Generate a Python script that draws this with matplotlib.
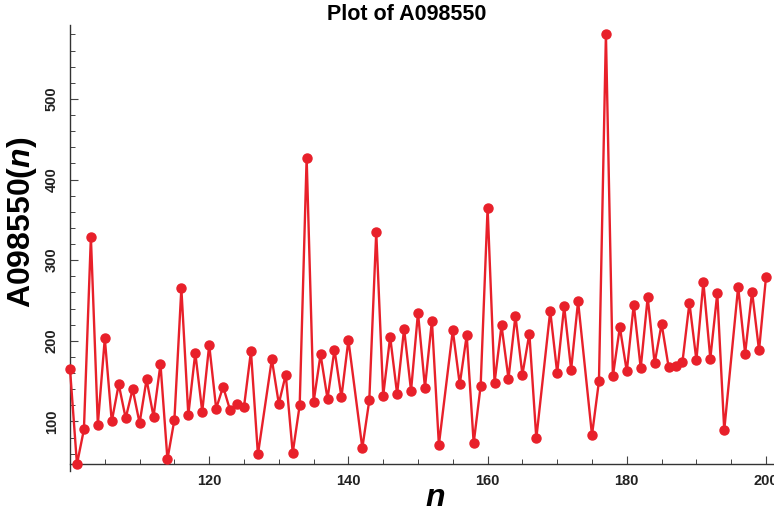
import matplotlib.pyplot as plt
from matplotlib.ticker import MultipleLocator

# index n and sequence values
# (n = 128, 141, 154, 168, 174, 195 show no marker in the reference)
n = [100, 101, 102, 103, 104, 105, 106, 107, 108, 109,
     110, 111, 112, 113, 114, 115, 116, 117, 118, 119,
     120, 121, 122, 123, 124, 125, 126, 127, 129,
     130, 131, 132, 133, 134, 135, 136, 137, 138, 139,
     140, 142, 143, 144, 145, 146, 147, 148, 149,
     150, 151, 152, 153, 155, 156, 157, 158, 159,
     160, 161, 162, 163, 164, 165, 166, 167, 169,
     170, 171, 172, 173, 175, 176, 177, 178, 179,
     180, 181, 182, 183, 184, 185, 186, 187, 188, 189,
     190, 191, 192, 193, 194, 196, 197, 198, 199,
     200]
a = [165, 47, 90, 329, 96, 203, 100, 146, 104, 140,
     98, 152, 106, 171, 53, 102, 265, 108, 185, 112,
     195, 116, 143, 114, 121, 118, 187, 59, 177,
     122, 158, 61, 120, 427, 124, 183, 128, 189, 130,
     201, 67, 126, 335, 132, 205, 134, 215, 138,
     235, 142, 225, 71, 213, 146, 207, 73, 144,
     365, 148, 219, 153, 231, 158, 209, 79, 237,
     160, 243, 164, 249, 83, 150, 581, 156, 217,
     162, 245, 166, 254, 172, 221, 168, 169, 174, 247,
     176, 273, 178, 259, 89, 267, 184, 261, 188,
     279]

x_major = [120, 140, 160, 180, 200]
y_major = [100, 200, 300, 400, 500]

plt.rcParams['font.family'] = ['Liberation Sans', 'DejaVu Sans']
plt.rcParams['font.weight'] = 'bold'
plt.rcParams['mathtext.fontset'] = 'custom'
plt.rcParams['mathtext.it'] = 'Liberation Sans:italic:bold'
plt.rcParams['mathtext.rm'] = 'Liberation Sans:bold'

W, H = 774, 514
fig = plt.figure(figsize=(W / 100, H / 100), dpi=100)
ax = fig.add_axes([70 / W, (H - 464.3) / H, 704 / W, (464.3 - 25) / H])

red = '#E8202A'
ax.plot(n, a, color=red, lw=1.7, marker='o', ms=6.5, clip_on=False, zorder=3)

ax.set_xlim(100, 201.15)
ax.set_ylim(46.8, 591.7)

for s in ['top', 'right']:
    ax.spines[s].set_visible(False)
for s in ['left', 'bottom']:
    ax.spines[s].set_color('#333333')
    ax.spines[s].set_linewidth(1.0)
ax.spines['left'].set_bounds(39, 591.7)

ax.set_xticks(x_major)
ax.xaxis.set_minor_locator(MultipleLocator(5))
ax.set_yticks(y_major)
ax.yaxis.set_minor_locator(MultipleLocator(20))

ax.tick_params(which='major', direction='in', length=6, width=0.8, color='#444444',
               labelsize=10.5, labelcolor='#222222')
ax.tick_params(which='minor', direction='in', length=3.5, width=0.7, color='#444444')
ax.tick_params(axis='x', which='major', pad=7)
ax.tick_params(axis='y', which='major', pad=8)
for lab in ax.get_yticklabels():
    lab.set_rotation(90)
    lab.set_va('center')
for lab in ax.get_xticklabels() + ax.get_yticklabels():
    lab.set_fontweight('bold')

fig.text(407 / W, 1 - 15 / H, 'Plot of A098550', ha='center', va='center',
         fontsize=15.5, fontweight='bold')
fig.text(22 / W, 1 - 222 / H, 'A098550($n$)', ha='center', va='center',
         rotation=90, fontsize=23, fontweight='bold')
fig.text(435 / W, 1 - 498 / H, '$n$', ha='center', va='center', fontsize=23)

fig.savefig('out.png', dpi=100)
